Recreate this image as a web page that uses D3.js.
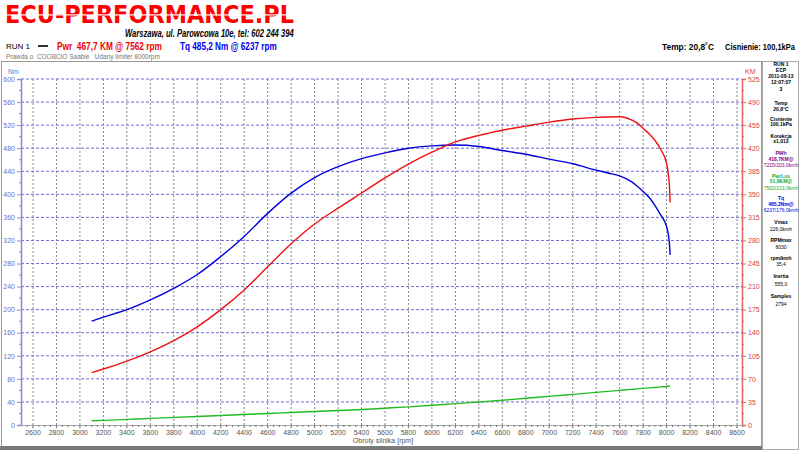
<!DOCTYPE html>
<html><head><meta charset="utf-8">
<script src="https://cdn.jsdelivr.net/npm/d3@7"></script>
<style>
html,body{margin:0;padding:0;background:#fff;}
svg{display:block;font-family:"Liberation Sans",Arial,sans-serif;}
text{white-space:pre;}
</style></head>
<body>
<svg id="c" width="800" height="450"></svg>
<script>
// ---- data ----
const rpm = [3100,3200,3400,3600,3800,4000,4200,4400,4600,4800,5000,5200,5400,5600,5800,6000,6200,6400,6600,6800,7000,7200,7400,7500,7600,7700,7750,7800,7850,7900,7950,8000,8015,8025,8030];
const torqueNm = [180,187,200,217,237,261,292,327,367,402,429,448,462,472,480,484,485.5,483,476,469.5,461,453,442,437,432,422,414,405,395,381,364,344,330,312,295];
const powerKM = [79.5,85,97,111,128,149,175,205,240,275,305,329,352,375,396,414,429.5,439.5,447.3,453.5,459.5,464.3,466.8,467.4,467.7,463,458,450,442,432,418,397,380,360,338];
const lossKM = [6.4,7,8.5,10,11.5,13,14.5,16,17.5,19,20.5,22,23.5,25.5,27.5,29.9,32.5,35,37.5,40.5,43.4,46.5,49.5,51,52.5,54,54.8,55.5,56.3,57,57.8,58.5,58.8,59,59];
const xTicks = d3.range(2600, 8601, 200);
const nmTicks = d3.range(0, 601, 40);
const kmTicks = d3.range(0, 526, 35);
const sidePanel = [
  ["RUN 1","b","#000"],["ECP","b","#000"],["2011-08-13","b","#000"],["12:07:07","b","#000"],["3","b","#000"],
  ["Temp","b","#000"],["20,8°C","b","#000"],["Cisnienie","b","#000"],["100,1kPa","b","#000"],
  ["Korekcja","b","#000"],["x1,013","b","#000"],
  ["PWh","b","#800080"],["418,7KM@","b","#800080"],["7215/203,0kmh","n","#800080"],
  ["PwrLos","b","#22aa22"],["51,8KM@","b","#22aa22"],["7562/213,0kmh","n","#22aa22"],
  ["Tq","b","#0000dd"],["485,2Nm@","b","#0000dd"],["6237/176,0kmh","n","#0000dd"],
  ["Vmax","b","#000"],["226,0kmh","n","#000"],["RPMmax","b","#000"],["8030","n","#000"],
  ["rpm/kmh","b","#000"],["35,4","n","#000"],["Inertia","b","#000"],["555,0","n","#000"],
  ["Samples","b","#000"],["2794","n","#000"]
];
const sideY = [63.5,70,76,82,88.5,102.5,108.5,118.5,124,135.5,141,152.5,158.5,164.5,175.5,181,187.5,198,203.5,210,222,228.5,240,246.5,257.5,264,276,283.5,296,303.5];

// ---- scales ----
const svg = d3.select("#c");
const x = d3.scaleLinear().domain([2600, 8600]).range([33, 737]);
const yL = d3.scaleLinear().domain([0, 600]).range([425, 79]);
const yR = d3.scaleLinear().domain([0, 525]).range([425, 79]);
const X0 = 21, X1 = 742;

// text fitted to a width by horizontal scaling
function fitText(str, px, py, width, anchor, attrs){
  const t = svg.append("text").attr("x",0).attr("y",0).text(str);
  Object.entries(attrs).forEach(([k,v])=>t.attr(k,v));
  const w = t.node().getComputedTextLength();
  const s = width / w;
  const left = anchor==="end" ? px - width : px;
  t.attr("transform",`translate(${left},${py}) scale(${s},1)`);
  return t;
}

// frames
svg.append("rect").attr("x",1.5).attr("y",61.5).attr("width",760).attr("height",385).attr("fill","#fff").attr("stroke","#999");
svg.append("rect").attr("x",0).attr("y",446).attr("width",762).attr("height",4).attr("fill","#7a7a7a");
svg.append("rect").attr("x",762.5).attr("y",61.5).attr("width",36).attr("height",388).attr("fill","#fff").attr("stroke","#aaa");

// header
fitText("ECU-PERFORMANCE.PL",5,23,289,"start",{"font-family":"DejaVu Sans","font-weight":"bold","font-size":24,"fill":"#ff0000"});
svg.append("rect").attr("x",4).attr("y",14.3).attr("width",292).attr("height",1.2).attr("fill","#fff");
fitText("Warszawa, ul. Parowcowa 10e, tel: 602 244 394",294,37,169,"end",{"font-weight":"bold","font-style":"italic","font-size":10,"fill":"#000"});
svg.append("text").attr("x",6).attr("y",49).attr("font-size",8).attr("fill","#000").text("RUN 1");
svg.append("line").attr("x1",38).attr("x2",48).attr("y1",46).attr("y2",46).attr("stroke","#000").attr("stroke-width",1.6);
fitText("Pwr  467,7 KM @ 7562 rpm",57,50,105,"start",{"font-size":10,"font-weight":"bold","fill":"#ee0000"});
fitText("Tq 485,2 Nm @ 6237 rpm",180,50,97,"start",{"font-size":10,"font-weight":"bold","fill":"#0000ee"});
fitText("Prawda o  COOBCIO Saabie   Udany limiter 8000rpm",6,58.5,154,"start",{"font-size":7,"fill":"#777"});
fitText("Temp: 20,8˚C",714,50,52,"end",{"font-size":9,"font-weight":"bold","fill":"#000"});
fitText("Cisnienie: 100,1kPa",795,50,70,"end",{"font-size":9,"font-weight":"bold","fill":"#000"});

// grid
const g = svg.append("g");
g.selectAll(".vg").data(xTicks).join("line").attr("x1",d=>x(d)).attr("x2",d=>x(d)).attr("y1",79).attr("y2",428)
  .attr("stroke","#8a8a8a").attr("stroke-width",1).attr("stroke-dasharray","2,2");
g.selectAll(".hg").data(nmTicks.filter(d=>d>0)).join("line").attr("x1",X0).attr("x2",X1).attr("y1",d=>yL(d)).attr("y2",d=>yL(d))
  .attr("stroke","#6b6bd6").attr("stroke-width",1).attr("stroke-dasharray","3,2");

// x axis
const xa = svg.append("g").attr("transform","translate(0,425)");
xa.append("line").attr("x1",X0).attr("x2",X1).attr("y1",0.5).attr("y2",0.5).attr("stroke","#aaa");
xa.selectAll(".mt").data(d3.range(2550, 8651, 50)).join("line").attr("x1",d=>x(d)).attr("x2",d=>x(d)).attr("y1",0).attr("y2",d=>d%200===0?3:2)
  .attr("stroke","#777");
xa.selectAll(".xl").data(xTicks).join("text").attr("x",d=>x(d)).attr("y",10).attr("text-anchor","middle")
  .attr("font-size",7).attr("fill","#555").text(d=>d);
svg.append("text").attr("x",383).attr("y",443).attr("text-anchor","middle").attr("font-size",7).attr("fill","#555").text("Obroty silnika [rpm]");

// left axis
const la = svg.append("g").attr("transform",`translate(${X0},0)`).call(d3.axisLeft(yL).tickValues(nmTicks).tickSize(4).tickPadding(2));
la.select(".domain").attr("stroke","#8888dd").attr("stroke-width",1.5);
la.selectAll(".tick line").attr("stroke","#8888dd");
la.selectAll("text").attr("font-size",7).attr("fill","#7070c0").attr("font-family","Liberation Sans");
svg.append("g").attr("transform",`translate(${X0},0)`).selectAll("line").data(d3.range(20,600,40)).join("line")
  .attr("x1",-2).attr("x2",0).attr("y1",d=>yL(d)).attr("y2",d=>yL(d)).attr("stroke","#8888dd");
svg.append("text").attr("x",8).attr("y",74).attr("font-size",7).attr("fill","#7070c0").text("Nm");

// right axis
const ra = svg.append("g").attr("transform",`translate(${X1},0)`).call(d3.axisRight(yR).tickValues(kmTicks).tickSize(4).tickPadding(2));
ra.select(".domain").attr("stroke","#dd6666").attr("stroke-width",1.5);
ra.selectAll(".tick line").attr("stroke","#dd6666");
ra.selectAll("text").attr("font-size",7).attr("fill","#d04545").attr("font-family","Liberation Sans");
svg.append("g").attr("transform",`translate(${X1},0)`).selectAll("line").data(d3.range(17.5,525,35)).join("line")
  .attr("x1",0).attr("x2",2).attr("y1",d=>yR(d)).attr("y2",d=>yR(d)).attr("stroke","#dd6666");
svg.append("text").attr("x",745).attr("y",74).attr("font-size",7).attr("fill","#d04545").text("KM");

// curves
const idx = d3.range(rpm.length);
svg.append("path").attr("d", d3.line().x(i=>x(rpm[i])).y(i=>yR(lossKM[i])).curve(d3.curveMonotoneX)(idx)).attr("fill","none").attr("stroke","#22bb22").attr("stroke-width",1.4);
svg.append("path").attr("d", d3.line().x(i=>x(rpm[i])).y(i=>yL(torqueNm[i])).curve(d3.curveMonotoneX)(idx)).attr("fill","none").attr("stroke","#0000dd").attr("stroke-width",1.4);
svg.append("path").attr("d", d3.line().x(i=>x(rpm[i])).y(i=>yR(powerKM[i])).curve(d3.curveMonotoneX)(idx)).attr("fill","none").attr("stroke","#ee1111").attr("stroke-width",1.4);

// side panel
svg.append("g").selectAll("text").data(sidePanel.map((d,i)=>[d,sideY[i]])).join("text")
  .attr("x",781).attr("y",d=>d[1]+2).attr("text-anchor","middle").attr("font-size",5)
  .attr("font-weight",d=>d[0][1]==="b"?"bold":"normal").attr("fill",d=>d[0][2]).text(d=>d[0][0]);
</script>
</body></html>
